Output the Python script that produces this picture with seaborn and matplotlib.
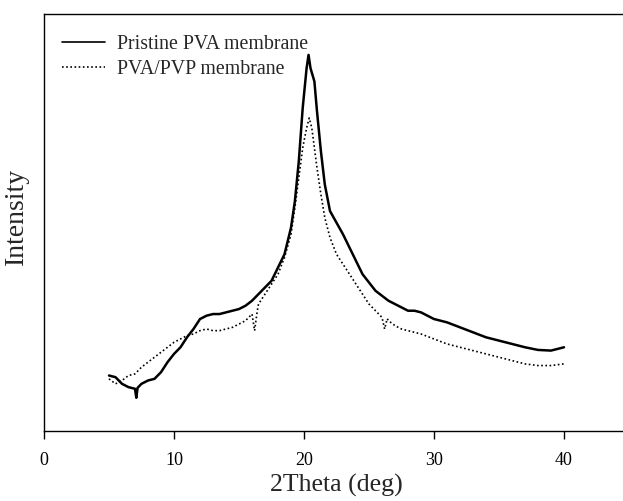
import matplotlib
matplotlib.use("Agg")
import matplotlib.pyplot as plt
import seaborn as sns
import pandas as pd

# 2Theta (deg) and intensities (arbitrary units)
theta_pva = [5.0, 5.5, 6.0, 6.5, 7.0, 7.1, 7.2, 7.5, 8.0, 8.5, 9.0, 9.5, 10.0, 10.5, 11.0,
             11.5, 12.0, 12.5, 13.0, 13.5, 14.0, 14.5, 15.0, 15.5, 16.0, 16.5, 17.0,
             17.5, 18.0, 18.5, 19.0, 19.3, 19.6, 19.9, 20.2, 20.35, 20.5, 20.8, 21.0,
             21.3, 21.6, 22.0, 22.5, 23.0, 23.5, 24.0, 24.5, 25.0, 25.5, 26.0, 26.5,
             27.0, 27.5, 28.0, 28.5, 29.0, 29.5, 30.0, 31.0, 32.0, 33.0, 34.0, 35.0,
             36.0, 37.0, 38.0, 39.0, 39.5, 40.0]
int_pva = [167, 162, 142, 132, 127, 100, 130, 142, 152, 157, 177, 207, 232, 252, 282,
           307, 337, 347, 352, 352, 357, 362, 367, 377, 392, 412, 432,
           452, 492, 532, 612, 692, 812, 972, 1092, 1132, 1092, 1052, 962,
           842, 742, 662, 627, 592, 552, 512, 472, 447, 422, 407, 392,
           382, 372, 362, 362, 357, 347, 337, 327, 312, 297, 282, 272,
           262, 252, 244, 242, 247, 252]

theta_pvp = [5.0, 5.5, 6.0, 6.5, 7.0, 7.5, 8.0, 8.5, 9.0, 9.5, 10.0, 10.5, 11.0, 11.5,
             12.0, 12.5, 13.0, 13.5, 14.0, 14.5, 15.0, 15.5, 16.0, 16.2, 16.4, 16.5,
             17.0, 17.5, 18.0, 18.5, 19.0, 19.3, 19.6, 19.9, 20.2, 20.4, 20.6, 20.8,
             21.0, 21.3, 21.6, 22.0, 22.5, 23.0, 23.5, 24.0, 24.5, 25.0, 25.5, 26.0,
             26.2, 26.4, 26.5, 27.0, 27.5, 28.0, 29.0, 30.0, 31.0, 32.0, 33.0, 34.0,
             35.0, 36.0, 37.0, 38.0, 39.0, 40.0]
int_pvp = [157, 142, 152, 167, 172, 192, 207, 222, 237, 252, 267, 277, 287, 292,
           302, 307, 302, 302, 307, 312, 322, 332, 352, 302, 360, 382,
           412, 442, 472, 522, 592, 672, 762, 852, 912, 942, 912, 852,
           792, 712, 642, 582, 532, 502, 472, 442, 412, 382, 362, 342,
           307, 338, 332, 317, 307, 302, 292, 277, 262, 252, 242, 232,
           222, 212, 202, 197, 197, 202]

label_pva = "Pristine PVA membrane"
label_pvp = "PVA/PVP membrane"
x_ticks = [0, 10, 20, 30, 40]

df = pd.concat([
    pd.DataFrame({"theta": theta_pva, "intensity": int_pva, "sample": label_pva}),
    pd.DataFrame({"theta": theta_pvp, "intensity": int_pvp, "sample": label_pvp}),
], ignore_index=True)

sns.set_style("ticks")
plt.rcParams["font.family"] = ["Liberation Serif", "DejaVu Serif"]

fig = plt.figure(figsize=(6.23, 5.01), dpi=100)
ax = fig.add_axes([44 / 623, 70 / 501, 585 / 623, 417 / 501])

sns.lineplot(data=df, x="theta", y="intensity", hue="sample", style="sample",
             palette={label_pva: "black", label_pvp: "black"},
             dashes={label_pva: "", label_pvp: (1, 1.5)},
             sort=False, estimator=None, ax=ax)
for ln in ax.get_lines():
    ln.set_linewidth(1.8)
ax.lines[1].set_linewidth(1.2)

ax.set_xlim(0, 45)
ax.set_ylim(0, 1255)
ax.set_xticks(x_ticks)
ax.set_xticklabels([str(t) for t in x_ticks], fontsize=13)
ax.set_yticks([])
ax.set_xlabel("2Theta (deg)", fontsize=18.6, labelpad=4)
ax.set_ylabel("Intensity", fontsize=20)
ax.yaxis.set_label_coords(-15 / 585, 0.515)
ax.tick_params(axis="x", direction="out", length=6, width=1, pad=9, colors="black")
for s in ax.spines.values():
    s.set_linewidth(1.0)
    s.set_color("black")

handles, labels = ax.get_legend_handles_labels()
leg = ax.legend(handles, labels, loc="upper left", bbox_to_anchor=(18 / 585, 0.95),
                frameon=False, fontsize=14.3, handlelength=2.15, handletextpad=0.6,
                labelspacing=0.3, borderaxespad=0, borderpad=0)
for h in leg.get_lines():
    h.set_linewidth(1.2)

fig.savefig("out.png", dpi=100)
